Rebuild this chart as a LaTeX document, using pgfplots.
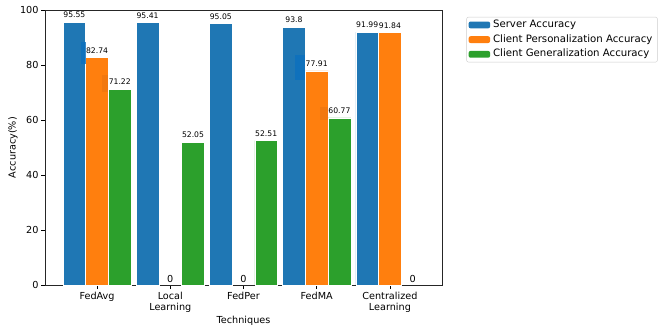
\documentclass[border=0pt]{standalone}
\usepackage{fontspec}
\setmainfont{DejaVu Sans}
\usepackage{pgfplots}
\pgfplotsset{compat=1.18}
\definecolor{cblue}{HTML}{1F77B4}
\definecolor{corange}{HTML}{FF7F0E}
\definecolor{cgreen}{HTML}{2CA02C}
\definecolor{artblue}{HTML}{0B70BE}
\definecolor{artorange}{HTML}{F2781A}
\begin{document}
\begin{tikzpicture}
\useasboundingbox (-45bp,-48.7bp) rectangle (620bp,285.3bp);
\begin{axis}[
  scale only axis,
  width=397bp, height=275.3bp,
  xmin=-0.7115, xmax=4.7115, ymin=0, ymax=100,
  ybar, bar width=0.31,
  xtick={0,1,2,3,4},
  xticklabels={FedAvg, Local\\Learning, FedPer, FedMA, Centralized\\Learning},
  xticklabel style={align=center, font=\fontsize{9.7}{11.5}\selectfont, inner sep=2.5bp},
  yticklabel style={font=\fontsize{9.7}{11.5}\selectfont, inner sep=2.5bp},
  ytick={0,20,40,60,80,100},
  /pgf/number format/assume math mode=true,
  tick align=outside, major tick length=3.8bp,
  xtick pos=left, ytick pos=left,
  tick style={black, line width=0.8bp},
  axis line style={line width=0.8bp, black!85},
  xlabel={Techniques}, ylabel={Accuracy(\%)},
  label style={font=\fontsize{9.7}{11.5}\selectfont},
  xlabel style={at={(axis description cs:0.5,-0.1297)}, anchor=center},
  ylabel style={at={(axis description cs:-0.0806,0.5)}, anchor=center},
  legend style={at={(axis description cs:1.0615,0.975)}, anchor=north west,
    draw=black!20, rounded corners=2bp, font=\fontsize{10.2}{12}\selectfont,
    inner xsep=2bp, inner ysep=3bp, row sep=5bp,
    nodes={inner xsep=3bp, inner ysep=0bp, text height=7.5bp, text depth=2.2bp}},
  legend cell align=left,
  mylegend/.style={legend image code/.code={\fill[##1, draw=none] (0bp,-3.4bp) rectangle (21.5bp,3.4bp);}},
  every node near coord/.append style={font=\fontsize{7.7}{9}\selectfont, inner sep=0bp, yshift=4bp, black},
]
\addplot[fill=cblue, draw=white, line width=0.5bp, bar shift=-0.31, mylegend, nodes near coords]
  coordinates {(0,95.55) (1,95.41) (2,95.05) (3,93.8) (4,91.99)};
\addlegendentry{Server Accuracy}
\addplot[fill=corange, draw=white, line width=0.5bp, bar shift=0, mylegend, nodes near coords]
  coordinates {(0,82.74) (3,77.91) (4,91.84)};
\addlegendentry{Client Personalization Accuracy}
\addplot[fill=cgreen, draw=white, line width=0.5bp, bar shift=0.31, mylegend, nodes near coords]
  coordinates {(0,71.22) (1,52.05) (2,52.51) (3,60.77)};
\addlegendentry{Client Generalization Accuracy}
\addplot[forget plot, draw=none, fill=none, bar shift=0, nodes near coords,
  every node near coord/.append style={font=\fontsize{9.7}{11}\selectfont, yshift=-1.5bp}]
  coordinates {(1,0) (2,0) (4.31,0)};
% faint label-box artefacts present in the reference
\fill[artblue, opacity=0.8] (axis cs:-0.219,80.4) rectangle (axis cs:-0.158,88.4);
\fill[artblue, opacity=0.8] (axis cs:2.705,74.6) rectangle (axis cs:2.842,83.7);
\fill[artorange!85!black, opacity=0.25] (axis cs:0.068,70.2) rectangle (axis cs:0.152,76.4);
\fill[artorange!85!black, opacity=0.25] (axis cs:3.042,60) rectangle (axis cs:3.152,64.6);
\end{axis}
\end{tikzpicture}
\end{document}
